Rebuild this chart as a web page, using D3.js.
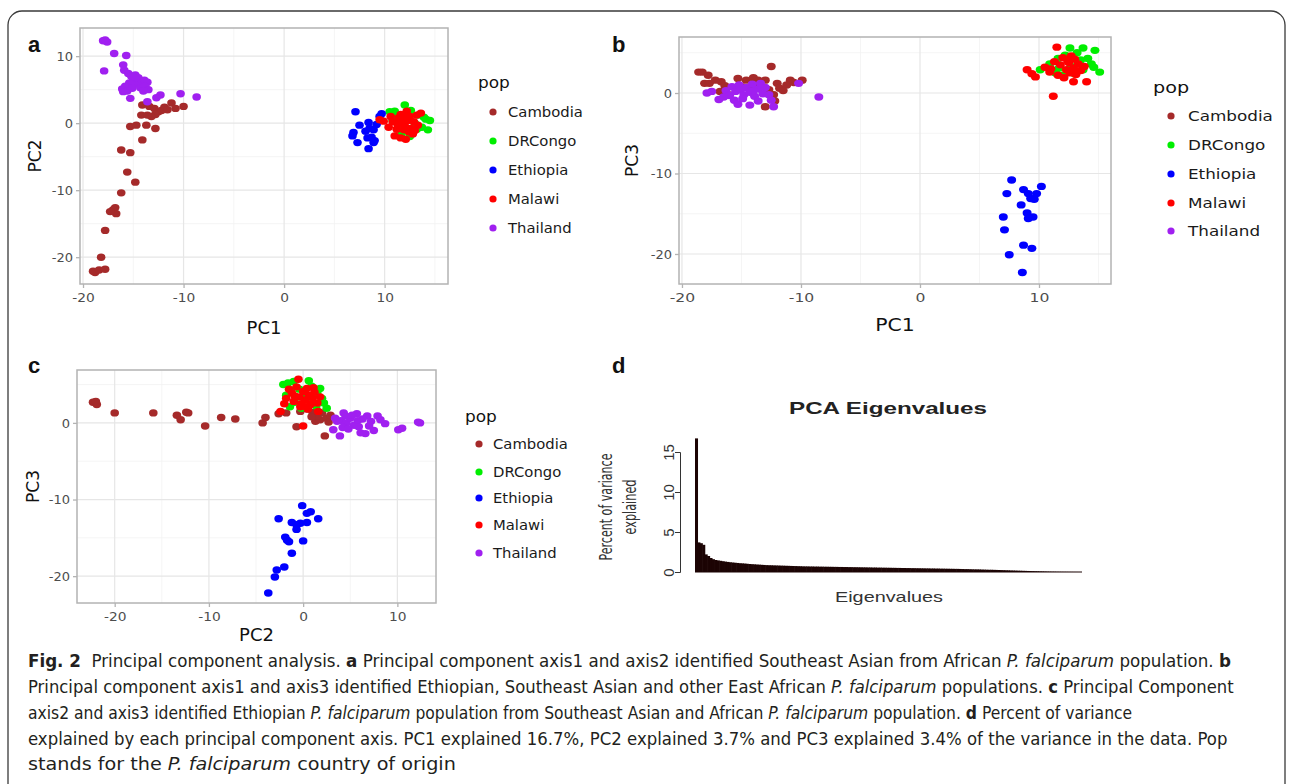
<!DOCTYPE html>
<html>
<head>
<meta charset="utf-8">
<script src="https://cdn.jsdelivr.net/npm/d3@7"></script>
<style>
body { margin: 0; background: #fff; }
svg { display: block; }
</style>
</head>
<body>
<svg id="fig"></svg>
<script>
'use strict'

var WIDTH = 1292,
	HEIGHT = 784;

// populations and their colours (legend order)
var pops = ['Cambodia', 'DRCongo', 'Ethiopia', 'Malawi', 'Thailand'];
var popColors = ['#a52a2a', '#00ee00', '#0000ff', '#ff0000', '#a020f0'];

// panel a : PC1 (x) vs PC2 (y)
var cambodiaA = [[-14.1,2.7],[-13.4,2.5],[-12.9,2.2],[-12.5,1.7],[-12.2,1.9],[-12.8,1.3],[-13.2,1.0],[-11.9,2.4],[-11.6,2.0],[-11.2,3.0],[-10.8,2.2],[-10.0,2.5],[-14.2,1.2],[-13.6,1.2],[-15.3,-0.5],[-14.7,-0.3],[-13.7,-0.3],[-12.8,-0.8],[-14.1,-2.5],[-16.2,-4.0],[-15.3,-4.4],[-15.6,-7.3],[-14.8,-8.8],[-16.2,-10.4],[-16.8,-12.6],[-17.0,-12.9],[-16.7,-13.5],[-17.3,-13.2],[-17.8,-16.0],[-18.2,-20.0],[-18.8,-22.3],[-19.0,-22.1],[-18.4,-21.9],[-17.8,-21.8]];
var drcongoA = [[10.5,1.7],[11.0,1.8],[12.0,2.7],[12.6,1.9],[13.3,1.2],[14.1,0.6],[14.5,0.4],[14.3,-1.0],[13.7,-0.6],[13.2,-0.9],[12.5,-2.0],[11.7,-1.5],[11.1,0.9],[12.3,0.5],[13.0,0.0],[12.8,-1.4],[11.5,-0.3],[13.9,0.9],[10.8,0.4],[12.2,1.2]];
var ethiopiaA = [[7.1,1.7],[7.5,-0.3],[6.9,-1.4],[6.8,-1.9],[7.3,-2.9],[8.4,-3.8],[8.7,-2.1],[9.0,-2.6],[8.3,-2.2],[8.5,-0.8],[8.9,-1.0],[8.4,0.1],[9.2,-0.2],[9.7,1.4],[9.5,1.0],[8.9,-2.9],[8.1,-1.2]];
var malawiA = [[9.5,0.5],[9.9,0.3],[10.4,-0.6],[10.8,0.2],[11.2,-0.9],[11.4,0.8],[11.8,0.0],[12.0,-0.4],[12.3,0.4],[12.6,-0.8],[12.9,0.2],[13.2,1.2],[13.6,1.5],[12.2,1.8],[11.6,1.3],[11.0,-1.9],[11.6,-2.2],[12.1,-2.4],[12.8,-1.6],[13.3,-0.3],[12.0,0.9],[11.3,-0.2],[12.5,1.0],[10.6,1.0],[12.4,-1.3],[11.9,-1.0],[13.0,-1.1]];
var thailandA = [[-18.0,12.3],[-17.6,12.1],[-17.8,12.4],[-16.9,10.4],[-15.7,10.1],[-17.9,7.8],[-16.0,8.7],[-15.9,7.9],[-15.5,7.4],[-15.2,7.0],[-14.8,7.2],[-14.5,6.8],[-15.0,6.5],[-14.6,6.2],[-14.2,6.0],[-13.9,6.4],[-13.6,6.1],[-14.9,5.8],[-15.4,6.0],[-15.8,5.5],[-16.1,5.1],[-15.6,4.8],[-14.3,5.3],[-13.8,5.5],[-13.5,5.0],[-14.0,4.8],[-16.0,4.7],[-15.3,3.7],[-13.6,3.2],[-12.7,3.8],[-12.3,4.2],[-10.3,4.4],[-8.7,3.9],[-14.7,6.8],[-15.1,5.2]];

// panel b : PC1 (x) vs PC3 (y)
var cambodiaB = [[-18.6,2.6],[-18.3,2.6],[-17.8,2.2],[-18.1,1.2],[-17.7,1.2],[-16.7,1.4],[-16.4,0.9],[-15.3,1.8],[-14.6,1.6],[-13.6,1.6],[-13.0,1.6],[-12.5,3.3],[-12.0,1.2],[-11.8,0.6],[-10.9,1.6],[-9.9,1.6],[-11.2,1.0],[-10.6,1.3],[-13.0,-1.7],[-16.8,0.2],[-16.1,-0.2],[-14.3,0.6],[-12.3,-0.2],[-13.8,0.9],[-12.7,0.4],[-15.0,0.8],[-11.5,0.3],[-14.0,1.9],[-12.2,-1.0],[-17.2,1.6]];
var drcongoB = [[12.6,5.6],[13.7,5.6],[14.7,5.3],[13.2,5.0],[12.2,4.7],[11.6,4.3],[10.1,2.9],[10.9,3.6],[11.4,2.5],[12.0,2.2],[13.0,2.4],[13.7,2.9],[14.4,3.6],[15.1,2.6],[14.1,4.3],[12.7,3.3],[11.7,3.1],[13.5,4.1],[14.6,3.2],[12.4,2.6]];
var ethiopiaB = [[7.7,-10.8],[7.3,-12.5],[8.7,-12.0],[9.1,-12.5],[9.3,-13.1],[9.6,-13.2],[10.2,-11.6],[9.8,-12.5],[8.5,-13.9],[7.0,-15.4],[9.0,-14.9],[9.1,-15.6],[9.5,-15.4],[7.1,-17.0],[8.7,-18.9],[9.4,-19.3],[7.5,-20.1],[8.6,-22.3]];
var malawiB = [[11.5,5.7],[9.0,2.9],[9.4,2.4],[9.7,2.0],[11.2,-0.4],[12.9,1.4],[14.0,1.4],[10.5,3.2],[10.9,2.6],[11.3,3.9],[11.8,3.5],[12.0,4.4],[12.3,2.9],[12.5,3.8],[12.7,4.6],[12.9,3.1],[13.1,2.3],[13.3,3.6],[13.5,2.8],[12.1,1.9],[11.6,2.2],[12.6,2.5],[13.8,3.3],[11.0,3.0],[12.4,4.0],[13.0,4.2]];
var thailandB = [[-17.9,0.0],[-17.5,0.2],[-16.9,-0.8],[-16.3,0.3],[-16.0,-0.3],[-15.8,0.8],[-15.5,0.2],[-15.2,1.0],[-15.1,0.4],[-14.8,-0.2],[-14.6,0.7],[-14.3,0.1],[-14.1,1.1],[-13.9,-0.4],[-13.6,0.5],[-13.4,1.2],[-13.2,-0.1],[-15.6,-0.9],[-15.3,-1.4],[-14.3,-1.5],[-13.6,-1.0],[-12.7,-0.2],[-12.5,-0.9],[-12.3,-1.7],[-10.2,1.2],[-8.5,-0.5],[-14.9,-0.7],[-16.5,-0.5],[-13.0,0.7],[-14.0,0.3]];

// panel c : PC2 (x) vs PC3 (y)
var cambodiaC = [[-22.3,2.7],[-21.9,2.4],[-22.0,2.8],[-20.0,1.3],[-15.9,1.3],[-13.4,1.0],[-13.0,0.4],[-12.4,1.4],[-12.2,1.3],[-10.4,-0.4],[-8.7,0.7],[-7.2,0.5],[-4.3,0.0],[-4.0,0.7],[-2.6,1.2],[-0.7,-0.5],[-0.3,1.5],[0.4,1.8],[1.3,0.2],[1.8,0.4],[2.5,0.6],[2.9,1.0],[2.3,-1.7],[1.0,1.4],[2.0,1.3],[1.5,0.9],[2.7,0.1],[0.9,0.8],[-1.8,1.3]];
var drcongoC = [[-2.1,5.0],[-1.6,5.2],[-1.0,5.4],[0.6,5.5],[0.9,4.8],[-0.4,4.4],[1.5,3.9],[2.0,3.2],[2.5,1.9],[1.4,2.2],[-1.4,2.1],[-1.8,3.6],[-0.9,2.7],[0.2,3.0],[1.0,2.6],[-0.2,1.9],[1.8,4.5],[-1.3,4.3],[0.4,3.6],[2.2,2.6]];
var ethiopiaC = [[-0.1,-10.8],[0.4,-11.8],[0.8,-11.6],[-2.6,-12.5],[1.6,-12.5],[-1.2,-13.0],[-0.7,-13.3],[-0.3,-13.1],[0.4,-13.0],[-0.7,-13.9],[-1.9,-14.9],[-1.7,-15.3],[-1.5,-15.5],[0.0,-15.4],[-1.2,-17.0],[-2.0,-18.8],[-2.8,-19.2],[-3.0,-20.1],[-3.7,-22.2]];
var malawiC = [[-0.5,5.7],[-2.4,1.5],[-2.0,2.5],[-1.8,3.2],[-1.5,4.4],[-1.2,3.9],[-1.0,2.8],[-0.7,4.7],[-0.4,3.4],[-0.2,2.5],[0.0,4.1],[0.2,3.0],[0.4,4.5],[0.6,3.6],[0.8,2.4],[1.0,3.2],[1.2,4.0],[1.5,2.6],[1.8,3.4],[1.6,1.5],[0.0,-0.4],[-0.3,2.1],[0.5,1.8],[-0.9,3.5],[0.3,2.1],[1.1,4.6]];
var thailandC = [[4.3,1.3],[5.7,1.2],[6.8,0.9],[7.9,0.9],[8.7,-0.1],[10.1,-0.9],[10.5,-0.7],[12.4,0.0],[12.2,0.1],[7.5,-1.0],[6.1,-1.3],[6.6,-1.4],[3.9,-1.7],[3.2,-0.9],[5.4,-0.3],[4.0,0.3],[4.6,0.0],[5.0,0.6],[3.6,0.2],[4.2,-0.6],[5.8,0.3],[6.3,0.5],[7.2,0.2],[4.8,-0.8],[5.9,-0.5],[3.4,0.6],[7.0,-0.4],[8.2,0.4],[5.2,1.0],[4.5,0.9]];

// tick values
var ticksPC1 = [-20, -10, 0, 10];
var ticksPC2a = [-20, -10, 0, 10];
var ticksPC3 = [-20, -10, 0];
var ticksPC2c = [-20, -10, 0, 10];
var ticksEigen = [0, 5, 10, 15];

// panel d : percent of variance explained per eigenvalue
var eigenPct = [
	16.7, 3.7, 3.6, 3.4, 2.2, 2.0, 1.75, 1.6, 1.5, 1.45,
	1.4, 1.35, 1.3, 1.26, 1.22, 1.19, 1.16, 1.13, 1.1, 1.08,
	1.06, 1.03, 1.0, 0.98, 0.96, 0.94, 0.92, 0.9, 0.88, 0.86,
	0.85, 0.84, 0.83, 0.82, 0.81, 0.8, 0.79, 0.78, 0.77, 0.76,
	0.75, 0.74, 0.73, 0.72, 0.71, 0.7, 0.7, 0.69, 0.69, 0.68,
	0.68, 0.67, 0.67, 0.66, 0.66, 0.65, 0.65, 0.64, 0.64, 0.63,
	0.63, 0.62, 0.62, 0.61, 0.61, 0.6, 0.6, 0.59, 0.59, 0.58,
	0.58, 0.57, 0.57, 0.56, 0.56, 0.55, 0.55, 0.54, 0.54, 0.53,
	0.53, 0.52, 0.52, 0.51, 0.51, 0.5, 0.5, 0.49, 0.49, 0.48,
	0.48, 0.47, 0.47, 0.46, 0.46, 0.45, 0.45, 0.44, 0.44, 0.43,
	0.43, 0.42, 0.42, 0.41, 0.41, 0.4, 0.4, 0.39, 0.39, 0.38,
	0.37, 0.36, 0.36, 0.35, 0.34, 0.33, 0.33, 0.32, 0.31, 0.3,
	0.29, 0.28, 0.28, 0.27, 0.26, 0.25, 0.24, 0.23, 0.22, 0.21,
	0.2, 0.19, 0.18, 0.17, 0.16, 0.15, 0.14, 0.13, 0.12, 0.11,
	0.1, 0.09, 0.08, 0.07, 0.06, 0.05, 0.04, 0.035, 0.03, 0.025,
	0.02, 0.018, 0.015, 0.012, 0.01, 0.008, 0.006, 0.004, 0.002, 0.001
];

// caption, one entry per line: [text, style]
var captionLines = [
	[['Fig. 2', 'b'], ['\u00a0 Principal component analysis. ', ''], ['a', 'b'], [' Principal component axis1 and axis2 identified Southeast Asian from African ', ''], ['P. falciparum', 'i'], [' population. ', ''], ['b', 'b']],
	[['Principal component axis1 and axis3 identified Ethiopian, Southeast Asian and other East African ', ''], ['P. falciparum', 'i'], [' populations. ', ''], ['c', 'b'], [' Principal Component', '']],
	[['axis2 and axis3 identified Ethiopian ', ''], ['P. falciparum', 'i'], [' population from Southeast Asian and African ', ''], ['P. falciparum', 'i'], [' population. ', ''], ['d', 'b'], [' Percent of variance', '']],
	[['explained by each principal component axis. PC1 explained 16.7%, PC2 explained 3.7% and PC3 explained 3.4% of the variance in the data. Pop', '']],
	[['stands for the ', ''], ['P. falciparum', 'i'], [' country of origin', '']]
];

var svg = d3.select('#fig')
	.attr('width', WIDTH)
	.attr('height', HEIGHT);

svg.append('rect')
	.attr('width', WIDTH)
	.attr('height', HEIGHT)
	.style('fill', '#fff');

// outer frame of the figure box
svg.append('rect')
	.attr('x', 8)
	.attr('y', 11)
	.attr('width', 1277)
	.attr('height', 820)
	.attr('rx', 14)
	.style('fill', 'none')
	.style('stroke', '#3a3a3a')
	.style('stroke-width', 1.3);

var TICK_FONT = '"DejaVu Sans", sans-serif';

// squeeze / stretch a text horizontally around its anchor
function hstretch(sel, sx) {
	sel.each(function () {
		var t = d3.select(this);
		var x = +t.attr('x') || 0, y = +t.attr('y') || 0;
		t.attr('transform', 'translate(' + x + ',' + y + ') scale(' + sx + ',1) translate(' + (-x) + ',' + (-y) + ')');
	});
}

function minorTicks(ticks, dom) {
	var out = [ticks[0] - 5];
	ticks.forEach(function (t) { out.push(t + 5); });
	return out.filter(function (v) { return v > dom[0] && v < dom[1]; });
}

function drawScatter(p) {
	var g = svg.append('g');
	var x = d3.scaleLinear().domain(p.xDomain).range([p.left, p.right]);
	var y = d3.scaleLinear().domain(p.yDomain).range([p.bottom, p.top]);

	// grid
	g.selectAll('.vminor').data(minorTicks(p.xTicks, p.xDomain)).enter()
		.append('line')
		.attr('x1', function (d) { return x(d); })
		.attr('x2', function (d) { return x(d); })
		.attr('y1', p.top).attr('y2', p.bottom)
		.style('stroke', '#f2f2f2').style('stroke-width', 0.8);
	g.selectAll('.hminor').data(minorTicks(p.yTicks, p.yDomain)).enter()
		.append('line')
		.attr('y1', function (d) { return y(d); })
		.attr('y2', function (d) { return y(d); })
		.attr('x1', p.left).attr('x2', p.right)
		.style('stroke', '#f2f2f2').style('stroke-width', 0.8);
	g.selectAll('.vmajor').data(p.xTicks).enter()
		.append('line')
		.attr('x1', function (d) { return x(d); })
		.attr('x2', function (d) { return x(d); })
		.attr('y1', p.top).attr('y2', p.bottom)
		.style('stroke', '#e6e6e6').style('stroke-width', 1.2);
	g.selectAll('.hmajor').data(p.yTicks).enter()
		.append('line')
		.attr('y1', function (d) { return y(d); })
		.attr('y2', function (d) { return y(d); })
		.attr('x1', p.left).attr('x2', p.right)
		.style('stroke', '#e6e6e6').style('stroke-width', 1.2);

	// points, one series per population
	p.series.forEach(function (pts, k) {
		g.selectAll(null).data(pts).enter()
			.append('ellipse')
			.attr('cx', function (d) { return x(d[0]); })
			.attr('cy', function (d) { return y(d[1]); })
			.attr('rx', p.rx)
			.attr('ry', 3.7)
			.style('fill', popColors[k]);
	});

	// panel border
	g.append('rect')
		.attr('x', p.left).attr('y', p.top)
		.attr('width', p.right - p.left)
		.attr('height', p.bottom - p.top)
		.style('fill', 'none')
		.style('stroke', '#b3b3b3')
		.style('stroke-width', 1.5);

	var fmt = function (d) { return String(d); };

	var xa = g.append('g')
		.attr('transform', 'translate(0,' + p.bottom + ')')
		.call(d3.axisBottom(x).tickValues(p.xTicks).tickSize(4).tickPadding(5).tickFormat(fmt));
	var ya = g.append('g')
		.attr('transform', 'translate(' + p.left + ',0)')
		.call(d3.axisLeft(y).tickValues(p.yTicks).tickSize(4).tickPadding(3).tickFormat(fmt));

	[xa, ya].forEach(function (a) {
		a.select('.domain').remove();
		a.selectAll('line').style('stroke', '#b3b3b3').style('stroke-width', 1.3);
		a.selectAll('text')
			.style('fill', '#4d4d4d')
			.style('font-family', TICK_FONT)
			.style('font-size', '13px');
	});
	xa.selectAll('text').attr('transform', 'scale(' + p.sx + ',1)');

	// axis titles
	var xt = g.append('text')
		.attr('x', (p.left + p.right) / 2)
		.attr('y', p.xTitleY)
		.attr('text-anchor', 'middle')
		.style('font-family', TICK_FONT)
		.style('font-size', '17px')
		.style('fill', '#111')
		.text(p.xTitle);
	hstretch(xt, p.sx);

	var cy = (p.top + p.bottom) / 2;
	g.append('text')
		.attr('transform', 'translate(' + p.yTitleX + ',' + cy + ') rotate(-90)')
		.attr('text-anchor', 'middle')
		.style('font-family', TICK_FONT)
		.style('font-size', '17px')
		.style('fill', '#111')
		.text(p.yTitle);

	// legend
	var lg = g.append('g');
	var lt = lg.append('text')
		.attr('x', p.legend.x)
		.attr('y', p.legend.titleY + 5)
		.style('font-family', TICK_FONT)
		.style('font-size', '16px')
		.style('fill', '#111')
		.text('pop');
	hstretch(lt, p.sx);
	var items = lg.selectAll('.item').data(pops).enter()
		.append('g')
		.attr('transform', function (d, i) { return 'translate(0,' + p.legend.ys[i] + ')'; });
	items.append('circle')
		.attr('cx', p.legend.dotX)
		.attr('cy', 0)
		.attr('r', 3.6)
		.style('fill', function (d, i) { return popColors[i]; });
	var labs = items.append('text')
		.attr('x', p.legend.textX)
		.attr('y', 5)
		.style('font-family', TICK_FONT)
		.style('font-size', '14px')
		.style('fill', '#1a1a1a')
		.text(function (d) { return d; });
	hstretch(labs, p.sx);

	// panel tag
	svg.append('text')
		.attr('x', p.tag.x)
		.attr('y', p.tag.y)
		.style('font-family', '"Liberation Sans", Arial, sans-serif')
		.style('font-weight', 'bold')
		.style('font-size', '22px')
		.style('fill', '#111')
		.text(p.tag.label);
}

drawScatter({
	left: 80, right: 448, top: 28, bottom: 284,
	xDomain: [-20.3, 16.3], yDomain: [-24.0, 14.2],
	xTicks: ticksPC1, yTicks: ticksPC2a,
	series: [cambodiaA, drcongoA, ethiopiaA, malawiA, thailandA],
	rx: 4.3, sx: 1.06,
	xTitle: 'PC1', xTitleY: 334,
	yTitle: 'PC2', yTitleX: 41,
	legend: { x: 478, titleY: 83, dotX: 493, textX: 508, ys: [112, 141, 170, 199, 228] },
	tag: { x: 28, y: 52, label: 'a' }
});

drawScatter({
	left: 679, right: 1111, top: 37, bottom: 284,
	xDomain: [-20.25, 16.05], yDomain: [-23.73, 6.96],
	xTicks: ticksPC1, yTicks: ticksPC3,
	series: [cambodiaB, drcongoB, ethiopiaB, malawiB, thailandB],
	rx: 4.5, sx: 1.2,
	xTitle: 'PC1', xTitleY: 331,
	yTitle: 'PC3', yTitleX: 638,
	legend: { x: 1153, titleY: 88, dotX: 1171, textX: 1188, ys: [116, 145, 174, 203, 231] },
	tag: { x: 612, y: 52, label: 'b' }
});

drawScatter({
	left: 77, right: 436, top: 370, bottom: 603,
	xDomain: [-24.0, 14.1], yDomain: [-23.5, 6.9],
	xTicks: ticksPC2c, yTicks: ticksPC3,
	series: [cambodiaC, drcongoC, ethiopiaC, malawiC, thailandC],
	rx: 4.3, sx: 1.06,
	xTitle: 'PC2', xTitleY: 641,
	yTitle: 'PC3', yTitleX: 39,
	legend: { x: 465, titleY: 417, dotX: 479, textX: 493, ys: [444, 472, 498, 525, 553] },
	tag: { x: 28, y: 373, label: 'c' }
});

// panel d : eigenvalue bar plot (R base style)
var gd = svg.append('g');
var xd = d3.scaleBand()
	.domain(d3.range(eigenPct.length))
	.range([695, 1082])
	.padding(0);
var yd = d3.scaleLinear().domain([0, 15]).range([572, 452]);

gd.selectAll('.bar').data(eigenPct).enter()
	.append('rect')
	.attr('x', function (d, i) { return xd(i); })
	.attr('width', xd.bandwidth() + 0.6)
	.attr('y', function (d) { return yd(d); })
	.attr('height', function (d) { return yd(0) - yd(d); })
	.style('fill', '#1c0404');

gd.append('line')
	.attr('x1', 695).attr('x2', 1082)
	.attr('y1', yd(0)).attr('y2', yd(0))
	.style('stroke', '#1c0404')
	.style('stroke-width', 1);

var yaxD = gd.append('g')
	.attr('transform', 'translate(680,0)')
	.call(d3.axisLeft(yd).tickValues(ticksEigen).tickSize(5).tickFormat(function (d) { return String(d); }));
yaxD.select('.domain').style('stroke', '#333').style('stroke-width', 1);
yaxD.selectAll('line').style('stroke', '#333');
yaxD.selectAll('text')
	.attr('x', 0).attr('y', 0).attr('dy', null)
	.attr('transform', 'translate(-6,0) rotate(-90)')
	.attr('text-anchor', 'middle')
	.style('font-family', '"Liberation Sans", Arial, sans-serif')
	.style('font-size', '15px')
	.style('fill', '#333');

gd.append('text')
	.attr('x', 888).attr('y', 414)
	.attr('text-anchor', 'middle')
	.attr('textLength', 198)
	.attr('lengthAdjust', 'spacingAndGlyphs')
	.style('font-family', '"Liberation Sans", Arial, sans-serif')
	.style('font-weight', 'bold')
	.style('font-size', '17px')
	.style('fill', '#222')
	.text('PCA Eigenvalues');

gd.append('text')
	.attr('x', 889).attr('y', 602)
	.attr('text-anchor', 'middle')
	.attr('textLength', 108)
	.attr('lengthAdjust', 'spacingAndGlyphs')
	.style('font-family', '"Liberation Sans", Arial, sans-serif')
	.style('font-size', '15px')
	.style('fill', '#333')
	.text('Eigenvalues');

[['Percent of variance', 612, 107], ['explained', 636, 55]].forEach(function (r) {
	gd.append('text')
		.attr('transform', 'translate(' + r[1] + ',507) rotate(-90)')
		.attr('text-anchor', 'middle')
		.attr('textLength', r[2])
		.attr('lengthAdjust', 'spacingAndGlyphs')
		.style('font-family', '"Liberation Sans Narrow", "DejaVu Sans Condensed", "Liberation Sans", sans-serif')
		.style('font-size', '17px')
		.style('fill', '#333')
		.text(r[0]);
});

gd.append('text')
	.attr('x', 612).attr('y', 373)
	.style('font-family', '"Liberation Sans", Arial, sans-serif')
	.style('font-weight', 'bold')
	.style('font-size', '22px')
	.style('fill', '#111')
	.text('d');

// caption: each line fitted to the width it has in the figure
var capY = [667, 693, 719, 745, 770];
var capW = [1204, 1206, 1105, 1200, 428];
var cap = svg.append('g')
	.style('font-family', '"Liberation Sans Narrow", "DejaVu Sans Condensed", "Roboto", sans-serif')
	.style('font-size', '18px')
	.style('fill', '#231f20');

captionLines.forEach(function (segs, i) {
	var t = cap.append('text')
		.attr('x', 0).attr('y', 0)
		.style('white-space', 'pre');
	segs.forEach(function (s) {
		t.append('tspan')
			.style('font-weight', s[1] === 'b' ? 'bold' : 'normal')
			.style('font-style', s[1] === 'i' ? 'italic' : 'normal')
			.text(s[0]);
	});
	var w = t.node().getComputedTextLength();
	t.attr('transform', 'translate(28,' + capY[i] + ') scale(' + (capW[i] / w) + ',1)');
});
</script>
</body>
</html>
